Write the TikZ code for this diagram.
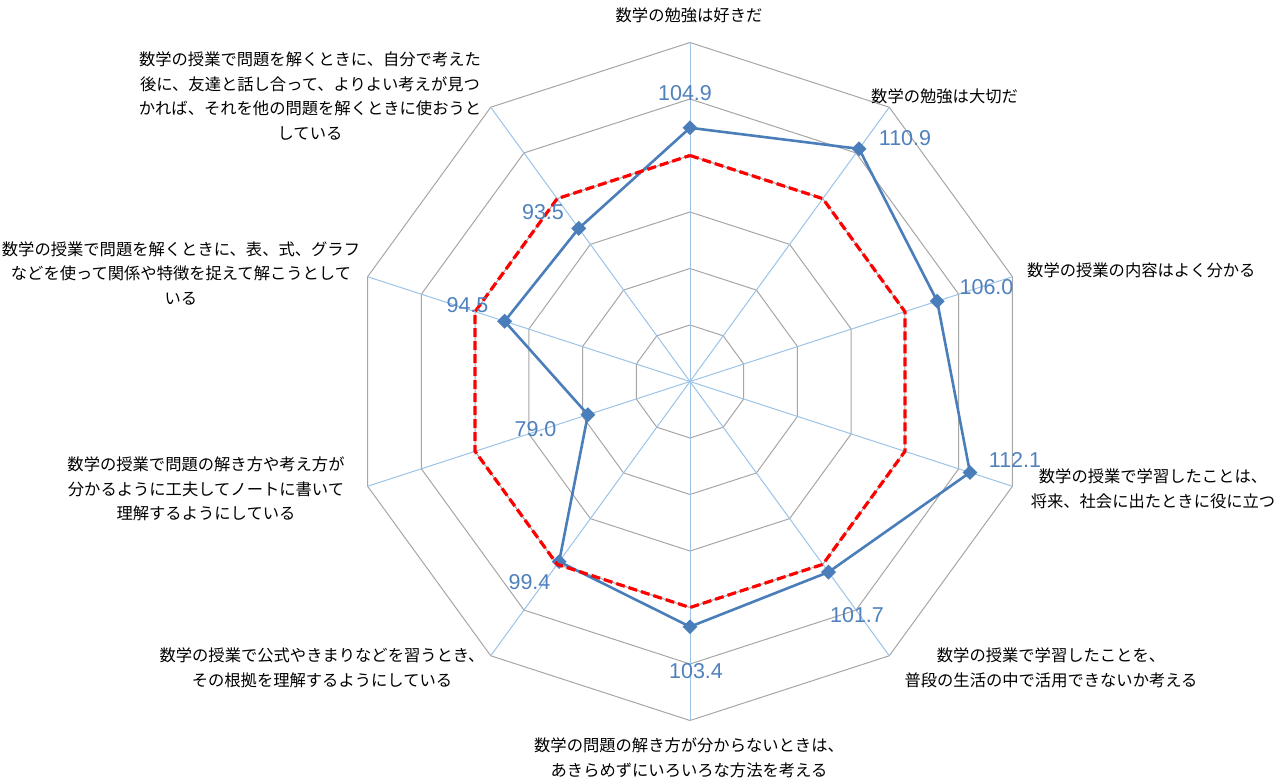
\documentclass[tikz,border=0pt]{standalone}
\usepackage{fontspec}
\setmainfont{Liberation Sans}
\newfontfamily\jp{Noto Sans CJK JP}
\usetikzlibrary{calc,shapes.geometric}
\definecolor{spokeblue}{HTML}{9DC3E6}
\definecolor{ringgray}{HTML}{A6A6A6}
\definecolor{seriesblue}{HTML}{4A7EBB}
\definecolor{valblue}{HTML}{4F81BD}
\tikzset{
  spoke/.style={draw=spokeblue,line width=1pt},
  ring/.style={draw=ringgray,line width=1pt,line join=miter},
  series/.style={draw=seriesblue,line width=2.6pt,line join=round},
  refline/.style={draw=red,line width=3.2pt,dash pattern=on 9pt off 4pt,line join=round},
  marker/.style={diamond,fill=seriesblue,inner sep=0pt,minimum size=15pt},
  vallabel/.style={text=valblue,font=\fontsize{21.5}{24}\selectfont,inner sep=0pt},
  catlabel/.style={align=center,inner sep=0pt,font=\jp\fontsize{16.3}{24.5}\selectfont},
}
\begin{document}
\begin{tikzpicture}[x=1pt,y=1pt]
\useasboundingbox[fill=white] (0,0) rectangle (1283,-784);
\coordinate (C) at (690,-381.5);
% grid rings
\foreach \k in {1,...,6}{
  \draw[ring] ($(C)+(90:\k*56.5)$)
    \foreach \i in {1,...,9}{ -- ($(C)+(90-36*\i:\k*56.5)$) } -- cycle;
}
% spokes
\foreach \i in {0,...,9}{
  \coordinate (e\i) at ($(C)+(90-36*\i:339)$);
  \draw[spoke] (C) -- (e\i);
}
% data points
\foreach \v [count=\j from 0] in {104.9,110.9,106.0,112.1,101.7,103.4,99.4,79.0,94.5,93.5}{
  \coordinate (p\j) at ($(C)+(90-36*\j:{(\v-60)*5.65})$);
  \coordinate (r\j) at ($(C)+(90-36*\j:226)$);
}
\draw[series] (p0) -- (p1) -- (p2) -- (p3) -- (p4) -- (p5) -- (p6) -- (p7) -- (p8) -- (p9) -- cycle;
\foreach \j in {0,...,9}{ \node[marker] (m\j) at (p\j) {}; }
\draw[refline] (r0) -- (r1) -- (r2) -- (r3) -- (r4) -- (r5) -- (r6) -- (r7) -- (r8) -- (r9) -- cycle;
% value labels
\node[vallabel] (v0) at (685,-93) {104.9};
\node[vallabel] (v1) at (905,-138) {110.9};
\node[vallabel] (v2) at (986.5,-287) {106.0};
\node[vallabel] (v3) at (1015,-460) {112.1};
\node[vallabel] (v4) at (857,-615) {101.7};
\node[vallabel] (v5) at (696,-671) {103.4};
\node[vallabel] (v6) at (529.5,-582) {99.4};
\node[vallabel] (v7) at (535.5,-429) {79.0};
\node[vallabel] (v8) at (467.5,-305) {94.5};
\node[vallabel] (v9) at (543,-212) {93.5};
% category labels
\node[catlabel] (c0) at (689,-15) {数学の勉強は好きだ};
\node[catlabel,anchor=west] (c1) at (871,-96) {数学の勉強は大切だ};
\node[catlabel,anchor=west] (c2) at (1027,-270) {数学の授業の内容はよく分かる};
\node[catlabel] (c3) at (1153,-489) {数学の授業で学習したことは、\\将来、社会に出たときに役に立つ};
\node[catlabel] (c4) at (1051,-668) {数学の授業で学習したことを、\\普段の生活の中で活用できないか考える};
\node[catlabel] (c5) at (689,-758) {数学の問題の解き方が分からないときは、\\あきらめずにいろいろな方法を考える};
\node[catlabel] (c6) at (322,-668) {数学の授業で公式やきまりなどを習うとき、\\その根拠を理解するようにしている};
\node[catlabel] (c7) at (206,-489) {数学の授業で問題の解き方や考え方が\\分かるように工夫してノートに書いて\\理解するようにしている};
\node[catlabel] (c8) at (181,-273) {数学の授業で問題を解くときに、表、式、グラフ\\などを使って関係や特徴を捉えて解こうとして\\いる};
\node[catlabel] (c9) at (310,-96) {数学の授業で問題を解くときに、自分で考えた\\後に、友達と話し合って、よりよい考えが見つ\\かれば、それを他の問題を解くときに使おうと\\している};
\end{tikzpicture}
\end{document}
